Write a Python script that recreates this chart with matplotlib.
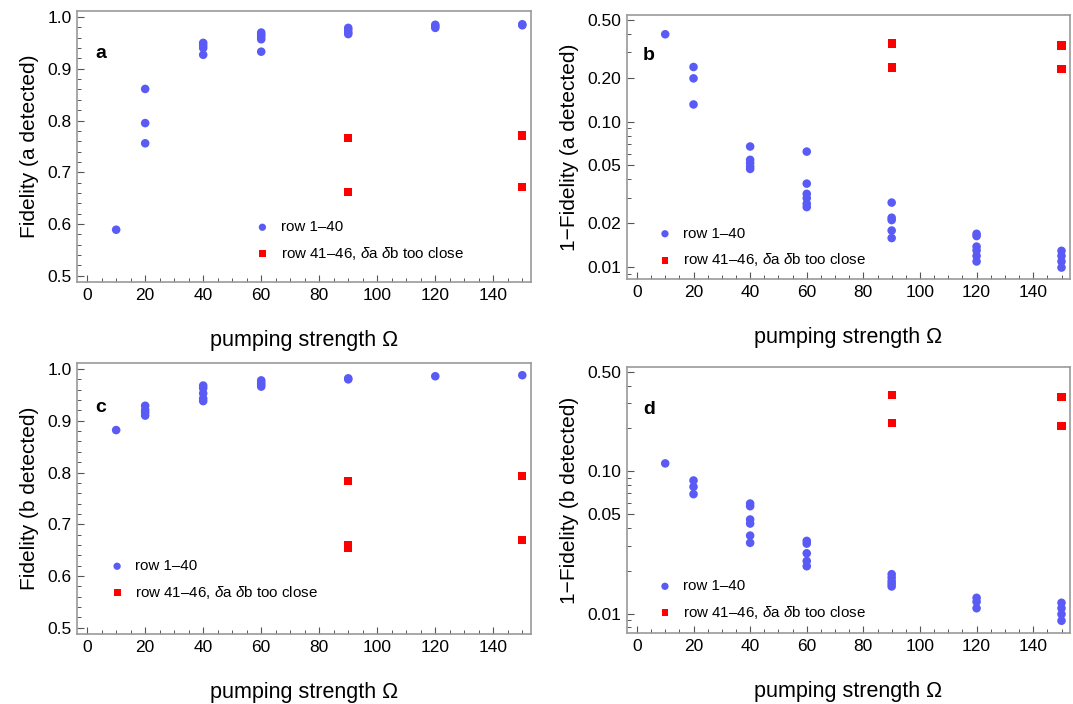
import numpy as np
import matplotlib
matplotlib.use("Agg")
import matplotlib.pyplot as plt
from matplotlib.ticker import FixedLocator, NullFormatter, FixedFormatter

plt.rcParams['font.family'] = ['Liberation Sans', 'DejaVu Sans']
plt.rcParams['mathtext.fontset'] = 'custom'
plt.rcParams['mathtext.it'] = 'Liberation Sans:italic'
plt.rcParams['mathtext.rm'] = 'Liberation Sans'

# 01. data
# panel a: Fidelity, a detected
a_blue_x = [10, 20, 20, 20, 40, 40, 40, 40, 60, 60, 60, 60, 60,
            90, 90, 90, 90, 120, 120, 120, 150, 150]
a_blue_y = [0.589, 0.861, 0.795, 0.756, 0.950, 0.945, 0.940, 0.927,
            0.970, 0.966, 0.962, 0.957, 0.933,
            0.979, 0.975, 0.970, 0.967, 0.985, 0.982, 0.979, 0.986, 0.984]
a_red_x = [90, 90, 150, 150]
a_red_y = [0.767, 0.662, 0.771, 0.671]

# panel b: 1-Fidelity, a detected
b_blue_x = [10, 20, 20, 20, 40, 40, 40, 40, 40,
            60, 60, 60, 60, 60, 60, 90, 90, 90, 90, 90,
            120, 120, 120, 120, 120, 120, 150, 150, 150, 150]
b_blue_y = [0.398, 0.237, 0.198, 0.131, 0.0673, 0.0545, 0.0517, 0.049, 0.0472,
            0.0621, 0.0374, 0.0318, 0.0297, 0.0272, 0.0258,
            0.0277, 0.0218, 0.0210, 0.0178, 0.0158,
            0.0169, 0.0163, 0.0138, 0.0130, 0.0119, 0.0109,
            0.0129, 0.0119, 0.0109, 0.0099]
b_red_x = [90, 90, 150, 150]
b_red_y = [0.344, 0.235, 0.333, 0.231]

# panel c: Fidelity, b detected
c_blue_x = [10, 20, 20, 20, 20, 40, 40, 40, 40, 40,
            60, 60, 60, 60, 90, 90, 120, 150]
c_blue_y = [0.882, 0.929, 0.921, 0.916, 0.910, 0.968, 0.963, 0.953, 0.943, 0.938,
            0.978, 0.974, 0.970, 0.966, 0.982, 0.980, 0.986, 0.988]
c_red_x = [90, 90, 90, 150, 150]
c_red_y = [0.784, 0.660, 0.655, 0.793, 0.669]

# panel d: 1-Fidelity, b detected
d_blue_x = [10, 20, 20, 20, 40, 40, 40, 40, 40, 40,
            60, 60, 60, 60, 60, 90, 90, 90, 90, 90,
            120, 120, 120, 150, 150, 150, 150]
d_blue_y = [0.1135, 0.0861, 0.0777, 0.069, 0.0593, 0.0568, 0.0458, 0.0429, 0.0353, 0.0314,
            0.0324, 0.031, 0.0265, 0.0234, 0.0215,
            0.0189, 0.0179, 0.0169, 0.0162, 0.0155,
            0.0129, 0.0121, 0.0109, 0.0119, 0.0109, 0.0099, 0.0089]
d_red_x = [90, 90, 150, 150]
d_red_y = [0.343, 0.219, 0.332, 0.207]

blue_label = "row 1\u201340"
red_label = "row 41\u201346, $\\mathit{\\delta}$a $\\mathit{\\delta}$b too close"

# 02. plotting
W, H = 1073, 704
fig = plt.figure(figsize=(W / 100, H / 100), dpi=100)

def add_axes(l, r, t, b):
    return fig.add_axes([l / W, 1 - b / H, (r - l) / W, (b - t) / H])

frame_col = '#999999'
blue = '#5a5af5'
red = '#ff0000'

def style(ax):
    for s in ax.spines.values():
        s.set_color(frame_col)
        s.set_linewidth(1.2)
    ax.tick_params(which='both', direction='in', color='#555555', top=False, right=False,
                   labelsize=12.5, pad=4)
    ax.tick_params(which='major', length=5, width=0.8)
    ax.tick_params(which='minor', length=2.8, width=0.7)
    ax.set_xlim(-3.5, 153)
    ax.xaxis.set_major_locator(FixedLocator([0, 20, 40, 60, 80, 100, 120, 140]))
    ax.xaxis.set_minor_locator(FixedLocator(np.arange(0, 155, 5)))
    ax.set_xlabel("pumping strength \u03a9", fontsize=15.5, labelpad=20)

def draw(ax, bx, by, rx, ry):
    ax.scatter(bx, by, s=38, color=blue, marker='o', edgecolors='none', label=blue_label, zorder=3, clip_on=False)
    ax.scatter(rx, ry, s=34, color=red, marker='s', edgecolors='none', label=red_label, zorder=3, clip_on=False)

def legend(ax, x, y):
    ax.legend(loc='upper left', bbox_to_anchor=(x, y), frameon=False, fontsize=10.9,
              handlelength=0.8, handletextpad=0.8, labelspacing=0.7, borderpad=0,
              borderaxespad=0, scatterpoints=1, markerscale=0.85)

def lin_y(ax, label):
    ax.set_ylim(0.488, 1.0116)
    ax.yaxis.set_major_locator(FixedLocator([0.5, 0.6, 0.7, 0.8, 0.9, 1.0]))
    ax.yaxis.set_minor_locator(FixedLocator(np.arange(0.5, 1.001, 0.02)))
    ax.yaxis.set_major_formatter(FixedFormatter(['0.5', '0.6', '0.7', '0.8', '0.9', '1.0']))
    ax.set_ylabel(label, fontsize=15, labelpad=6)

def log_y(ax, label, lo, hi, majors, labels):
    ax.set_yscale('log')
    ax.set_ylim(lo, hi)
    minors = [v * m for v in [0.001, 0.01, 0.1] for m in range(1, 10)] + [0.5]
    ax.yaxis.set_major_locator(FixedLocator(majors))
    ax.yaxis.set_major_formatter(FixedFormatter(labels))
    ax.yaxis.set_minor_locator(FixedLocator([m for m in minors if m not in majors]))
    ax.yaxis.set_minor_formatter(NullFormatter())
    ax.set_ylabel(label, fontsize=15, labelpad=6)

ax_a = add_axes(77, 531, 11, 282)
ax_b = add_axes(627, 1070, 15, 279)
ax_c = add_axes(77, 531, 363, 634)
ax_d = add_axes(627, 1070, 367, 633)

for ax in (ax_a, ax_b, ax_c, ax_d):
    style(ax)

draw(ax_a, a_blue_x, a_blue_y, a_red_x, a_red_y)
lin_y(ax_a, "Fidelity (a detected)")
legend(ax_a, 0.395, 0.228)

draw(ax_b, b_blue_x, b_blue_y, b_red_x, b_red_y)
log_y(ax_b, "1\u2212Fidelity (a detected)", 0.00826, 0.54,
      [0.01, 0.02, 0.05, 0.1, 0.2, 0.5], ['0.01', '0.02', '0.05', '0.10', '0.20', '0.50'])
legend(ax_b, 0.072, 0.198)

draw(ax_c, c_blue_x, c_blue_y, c_red_x, c_red_y)
lin_y(ax_c, "Fidelity (b detected)")
legend(ax_c, 0.075, 0.276)

draw(ax_d, d_blue_x, d_blue_y, d_red_x, d_red_y)
log_y(ax_d, "1\u2212Fidelity (b detected)", 0.0073, 0.54,
      [0.01, 0.05, 0.1, 0.5], ['0.01', '0.05', '0.10', '0.50'])
legend(ax_d, 0.072, 0.202)

for ax, letter, (px, py) in [(ax_a, 'a', (101, 53)), (ax_b, 'b', (649, 56)),
                             (ax_c, 'c', (101, 407)), (ax_d, 'd', (649, 409))]:
    fig.text(px / W, 1 - py / H, letter, fontsize=14, fontweight='bold', ha='center', va='center')

plt.savefig('out.png', dpi=100)
